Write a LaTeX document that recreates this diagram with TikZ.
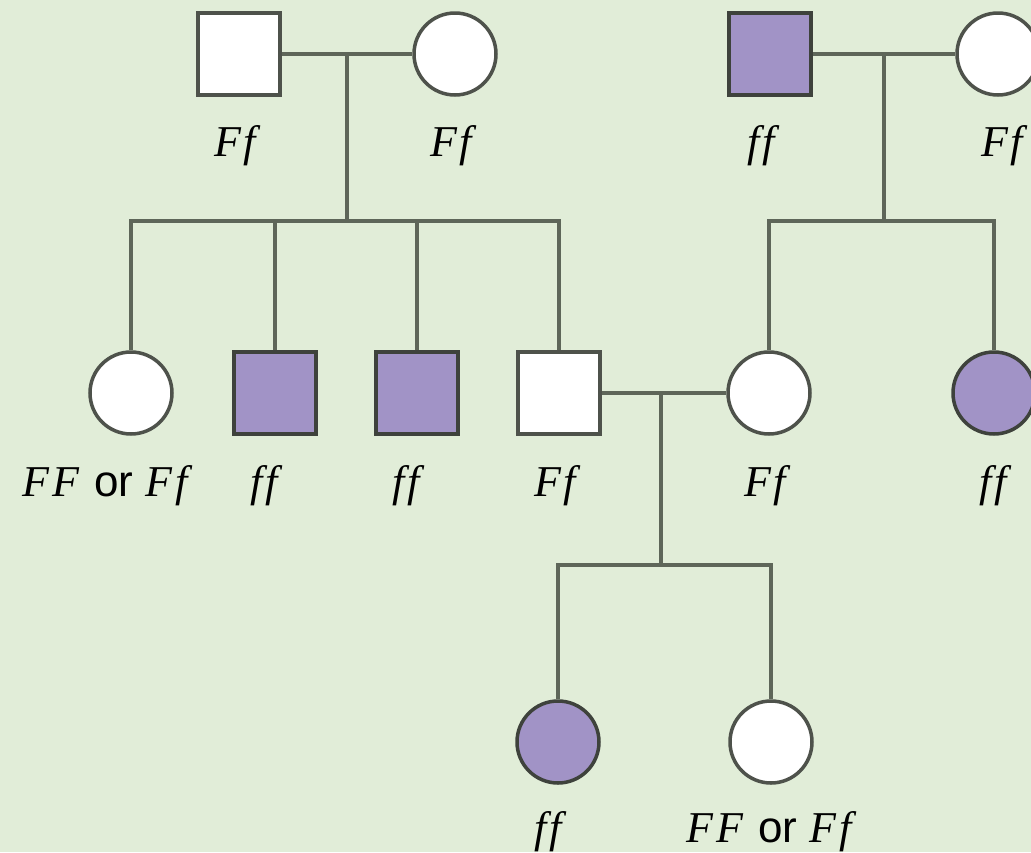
\documentclass[tikz,border=0pt]{standalone}
\usepackage{fontspec}
\setmainfont{Liberation Serif}[Ligatures=NoCommon]
\newfontfamily\orfont{Liberation Sans}
\begin{document}
\definecolor{bgcol}{HTML}{E1EDD8}
\definecolor{affected}{HTML}{A193C6}
\definecolor{edge}{HTML}{4E524B}
\definecolor{linecol}{HTML}{5E6659}
\newcommand{\geno}[1]{\textit{\addfontfeatures{LetterSpace=6}#1}}
\newcommand{\orword}{{\orfont\upshape\ or }}
\begin{tikzpicture}[x=1pt,y=-1pt,
  person/.style={draw=edge,line width=3.5pt,minimum size=82pt,inner sep=0pt},
  male/.style={person,rectangle},
  female/.style={person,circle},
  unaff/.style={fill=white},
  aff/.style={fill=affected,draw=edge!80!black},
  link/.style={draw=linecol,line width=3.8pt},
  lbl/.style={font=\fontsize{44}{46}\selectfont,inner sep=0pt,anchor=base}]
\fill[bgcol] (0,0) rectangle (1031,852);
\useasboundingbox (0,0) rectangle (1031,852);

% first generation
\node[male,unaff]   (gfA) at (239,54) {};
\node[female,unaff] (gmA) at (455,54) {};
\node[male,aff]     (gfB) at (770,54) {};
\node[female,unaff] (gmB) at (998,54) {};

% second generation
\node[female,unaff] (s1) at (131,393) {};
\node[male,aff]     (s2) at (275,393) {};
\node[male,aff]     (s3) at (417,393) {};
\node[male,unaff]   (s4) at (559,393) {};
\node[female,unaff] (s5) at (769,393) {};
\node[female,aff]   (s6) at (994,393) {};

% third generation
\node[female,aff]   (t1) at (558,742) {};
\node[female,unaff] (t2) at (771,742) {};

% couple midpoints and sibling bars
\coordinate (mA) at (347,54);
\coordinate (barA) at (347,221);
\coordinate (mB) at (884,54);
\coordinate (barB) at (884,221);
\coordinate (mC) at (661,393);
\coordinate (barC) at (661,565);

\path[link] (gfA.east) -- (gmA.west);
\path[link] (mA) -- (barA);
\path[link] (s1.north) |- (barA) -| (s4.north);
\path[link] (s2.north) -- (s2.north |- barA);
\path[link] (s3.north) -- (s3.north |- barA);

\path[link] (gfB.east) -- (gmB.west);
\path[link] (mB) -- (barB);
\path[link] (s5.north) |- (barB) -| (s6.north);

\path[link] (s4.east) -- (s5.west);
\path[link] (mC) -- (barC);
\path[link] (t1.north) |- (barC) -| (t2.north);

% genotype labels
\node[lbl] (lgfA) at (239,156) {\geno{Ff}};
\node[lbl] (lgmA) at (455,156) {\geno{Ff}};
\node[lbl] (lgfB) at (765,156) {\geno{ff}};
\node[lbl] (lgmB) at (1006,156) {\geno{Ff}};

\node[lbl] (ls1) at (109,496) {\geno{FF}\orword\geno{Ff}};
\node[lbl] (ls2) at (268,496) {\geno{ff}};
\node[lbl] (ls3) at (410,496) {\geno{ff}};
\node[lbl] (ls4) at (559,496) {\geno{Ff}};
\node[lbl] (ls5) at (769,496) {\geno{Ff}};
\node[lbl] (ls6) at (997,496) {\geno{ff}};

\node[lbl] (lt1) at (552,842) {\geno{ff}};
\node[lbl] (lt2) at (773,842) {\geno{FF}\orword\geno{Ff}};
\end{tikzpicture}
\end{document}
